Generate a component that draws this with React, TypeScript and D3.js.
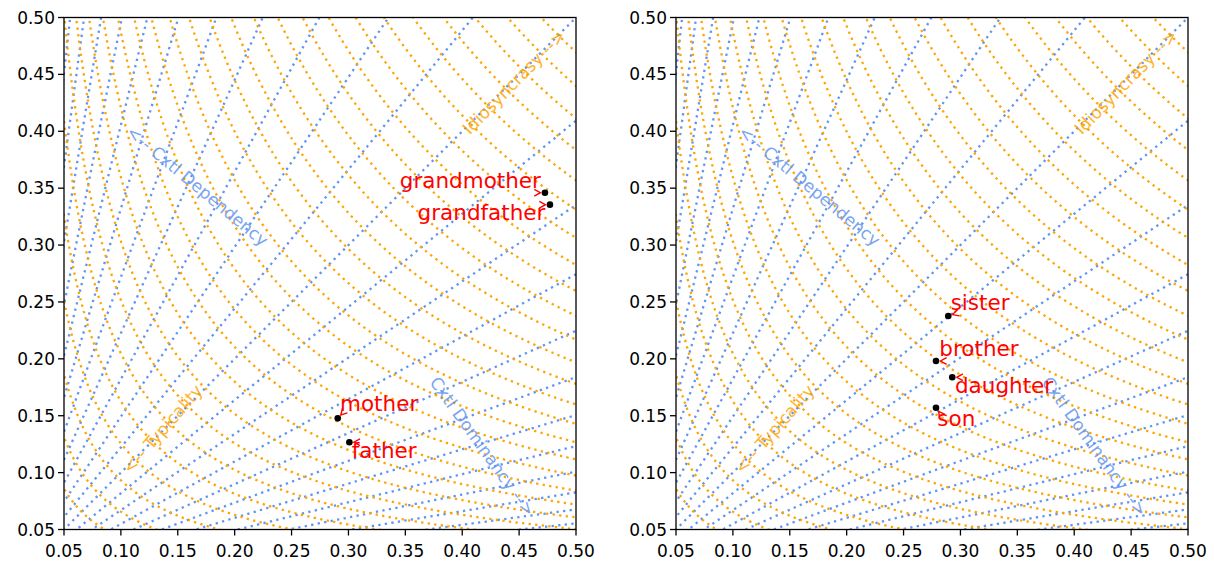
import React from 'react';
import * as d3 from 'd3';

// ---- axis ticks ----
const TICK_VALUES = [0.05, 0.1, 0.15, 0.2, 0.25, 0.3, 0.35, 0.4, 0.45, 0.5];
const TICK_LABELS = ['0.05', '0.10', '0.15', '0.20', '0.25', '0.30', '0.35', '0.40', '0.45', '0.50'];

// ---- left panel points ----
const leftWords = ['mother', 'father', 'grandmother', 'grandfather'];
const leftX = [0.2906, 0.3008, 0.4727, 0.4771];
const leftY = [0.1477, 0.1267, 0.346, 0.3355];
const leftLabelX = [0.2926, 0.3029, 0.3451, 0.3608];
const leftLabelY = [0.1544, 0.1128, 0.3504, 0.322];

// ---- right panel points ----
const rightWords = ['sister', 'brother', 'daughter', 'son'];
const rightX = [0.2893, 0.2785, 0.2928, 0.2785];
const rightY = [0.2377, 0.1981, 0.1838, 0.157];
const rightLabelX = [0.2914, 0.2814, 0.2952, 0.2797];
const rightLabelY = [0.2429, 0.2025, 0.17, 0.141];

// ---- background contour levels ----
// typicality: contours of the geometric mean sqrt(x*y)
const typicalityLevels = [
  0.05, 0.06552, 0.08103, 0.09655, 0.11207, 0.12759, 0.1431, 0.15862, 0.17414, 0.18966,
  0.20517, 0.22069, 0.23621, 0.25172, 0.26724, 0.28276, 0.29828, 0.31379, 0.32931, 0.34483,
  0.36034, 0.37586, 0.39138, 0.4069, 0.42241, 0.43793, 0.45345, 0.46897, 0.48448, 0.5,
];
// contextual dominancy: contours of ln(y/x)
const dominancyLevels = [
  -2.2, -2.0, -1.8, -1.6, -1.4, -1.2, -1.0, -0.8, -0.6, -0.4, -0.2, 0,
  0.2, 0.4, 0.6, 0.8, 1.0, 1.2, 1.4, 1.6, 1.8, 2.0, 2.2,
];

// ---- direction notes ----
const noteTexts = ['<-- Cxtl Dependency', 'Cxtl Dominancy -->', '<-- Typicality', 'Idiosyncrasy -->'];
const noteX = [0.1673, 0.4178, 0.1366, 0.4455];
const noteY = [0.3519, 0.123, 0.1383, 0.4433];
const noteAngle = [39.6, 54.3, -48.8, -45.5];
const noteKind = ['blue', 'blue', 'orange', 'orange'];

const W = 1214;
const H = 562;
const SIZE = 512;
const TOP = 17.5;
const ORANGE = '#ffa500';
const BLUE = '#6495ed';
const FONT = 'DejaVu Sans, sans-serif';

function Panel({ x0, id, words, px, py, lx, ly }: any) {
  const x = d3.scaleLinear().domain([0.05, 0.5]).range([x0, x0 + SIZE]);
  const y = d3.scaleLinear().domain([0.05, 0.5]).range([TOP + SIZE, TOP]);
  const line = d3.line<[number, number]>().x((d) => x(d[0])).y((d) => y(d[1]));

  const orangePaths = typicalityLevels.map((g) => {
    const P = g * g;
    const xa = Math.max(0.045, P / 0.52);
    const xb = Math.min(0.52, P / 0.045);
    if (xa >= xb) return null;
    const n = 160;
    const pts: [number, number][] = d3.range(n + 1).map((i) => {
      const xv = xa * Math.pow(xb / xa, i / n);
      return [xv, P / xv];
    });
    return line(pts);
  });

  const bluePaths = dominancyLevels.map((v) => {
    const r = Math.exp(v);
    const pts: [number, number][] = d3.range(101).map((i) => {
      const xv = (0.52 * i) / 100;
      return [xv, r * xv];
    });
    return line(pts);
  });

  const fs = 21.5;
  const cw = 0.615 * fs;

  return (
    <g>
      <defs>
        <clipPath id={'clip' + id}>
          <rect x={x0} y={TOP} width={SIZE} height={SIZE} />
        </clipPath>
      </defs>
      <g clipPath={`url(#clip${id})`}>
        {bluePaths.map((d, i) => (
          <path key={'b' + i} d={d} fill="none" stroke={BLUE} strokeWidth={2.3} strokeDasharray="2.3 4.3" />
        ))}
        {orangePaths.map((d, i) =>
          d ? (
            <path key={'o' + i} d={d} fill="none" stroke={ORANGE} strokeWidth={2.3} strokeDasharray="2.3 4.3" />
          ) : null
        )}
      </g>
      {noteTexts.map((t, i) => (
        <text
          key={'n' + i}
          x={x(noteX[i])}
          y={y(noteY[i])}
          transform={`rotate(${noteAngle[i]} ${x(noteX[i])} ${y(noteY[i])})`}
          textAnchor="middle"
          dominantBaseline="central"
          fontFamily={FONT}
          fontSize={17}
          fill={noteKind[i] === 'blue' ? BLUE : ORANGE}
          opacity={0.85}
        >
          {t}
        </text>
      ))}
      {words.map((w: string, i: number) => {
        const tx = x(lx[i]);
        const ty = y(ly[i]);
        const pX = x(px[i]);
        const pY = y(py[i]);
        const bw = w.length * cw;
        const sx = Math.max(tx, Math.min(tx + bw, pX));
        const sy = Math.max(ty - 0.76 * fs, Math.min(ty + 0.24 * fs, pY));
        const ang = Math.atan2(pY - sy, pX - sx);
        const gap = 4.5;
        const tipX = pX - gap * Math.cos(ang);
        const tipY = pY - gap * Math.sin(ang);
        const hl = 7;
        const a1 = ang + Math.PI - 0.5;
        const a2 = ang + Math.PI + 0.5;
        const len = Math.hypot(tipX - sx, tipY - sy);
        return (
          <g key={'w' + i}>
            <circle cx={pX} cy={pY} r={3.3} fill="#000" />
            {len > 1 && Math.hypot(pX - sx, pY - sy) > gap ? (
              <line x1={sx} y1={sy} x2={tipX} y2={tipY} stroke="red" strokeWidth={1.4} />
            ) : null}
            <path
              d={`M${tipX + hl * Math.cos(a1)},${tipY + hl * Math.sin(a1)}L${tipX},${tipY}L${tipX + hl * Math.cos(a2)},${tipY + hl * Math.sin(a2)}`}
              fill="none"
              stroke="red"
              strokeWidth={1.4}
            />
            <text x={tx} y={ty} fontFamily={FONT} fontSize={fs} fill="red">
              {w}
            </text>
          </g>
        );
      })}
      <rect x={x0} y={TOP} width={SIZE} height={SIZE} fill="none" stroke="#000" strokeWidth={1.3} />
      {TICK_VALUES.map((t, i) => (
        <g key={'tx' + i}>
          <line x1={x(t)} x2={x(t)} y1={TOP + SIZE} y2={TOP + SIZE + 6} stroke="#000" strokeWidth={1.3} />
          <text x={x(t)} y={TOP + SIZE + 27} textAnchor="middle" fontFamily={FONT} fontSize={17} fill="#000">
            {TICK_LABELS[i]}
          </text>
        </g>
      ))}
      {TICK_VALUES.map((t, i) => (
        <g key={'ty' + i}>
          <line x1={x0 - 6} x2={x0} y1={y(t)} y2={y(t)} stroke="#000" strokeWidth={1.3} />
          <text x={x0 - 9} y={y(t)} textAnchor="end" dominantBaseline="central" fontFamily={FONT} fontSize={17} fill="#000">
            {TICK_LABELS[i]}
          </text>
        </g>
      ))}
    </g>
  );
}

export default function App() {
  return (
    <svg width={W} height={H} style={{ position: 'absolute', left: 0, top: 0, background: '#fff' }}>
      <rect width={W} height={H} fill="#fff" />
      <Panel x0={64} id="L" words={leftWords} px={leftX} py={leftY} lx={leftLabelX} ly={leftLabelY} />
      <Panel x0={676} id="R" words={rightWords} px={rightX} py={rightY} lx={rightLabelX} ly={rightLabelY} />
    </svg>
  );
}
